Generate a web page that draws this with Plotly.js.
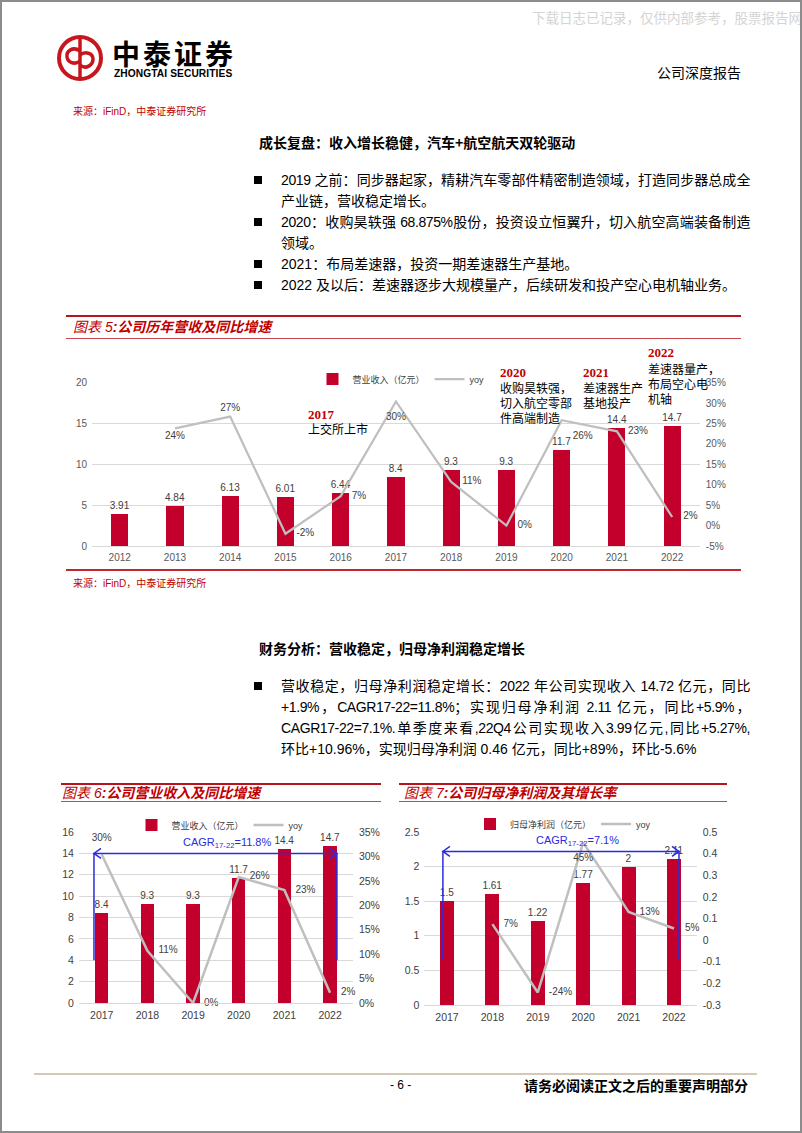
<!DOCTYPE html>
<html>
<head>
<meta charset="utf-8">
<script src="https://cdn.plot.ly/plotly-3.0.1.min.js"></script>
<style>
html,body{margin:0;padding:0;background:#fff;}
#page{position:relative;width:802px;height:1133px;overflow:hidden;background:#fff;box-sizing:border-box;border:2px solid #8c8c8c;
  font-family:"Liberation Sans","Noto Sans CJK SC",sans-serif;color:#000;}
#plot{position:absolute;left:-2px;top:-2px;width:802px;height:1133px;}
.t{position:absolute;white-space:nowrap;}
.ln{position:absolute;left:279px;width:469px;font-size:14px;line-height:20px;height:20px;overflow:visible;}
.j{text-align:justify;text-align-last:justify;letter-spacing:-0.4px;}
.sq{position:absolute;left:252px;width:8px;height:8px;background:#000;}
.hr{position:absolute;}
.ttl{font-size:14px;line-height:18px;color:#C00000;font-style:italic;font-family:"Liberation Sans","Noto Sans CJK SC",sans-serif;}
.src{font-size:10px;line-height:14px;color:#C00000;font-family:"Liberation Sans Narrow","Liberation Sans","Noto Sans CJK SC",sans-serif;}
.ann{font-size:12px;line-height:15px;color:#000;font-family:"Noto Sans CJK SC",sans-serif;}
.yr{font-size:13px;line-height:15px;color:#C00000;font-weight:bold;font-family:"Liberation Serif",serif;}
</style>
</head>
<body>
<div id="page">
<div id="plot"></div>

<!-- header -->
<div class="t" style="left:530px;top:6px;font-size:13.5px;line-height:18px;color:#d4d4d4;font-family:'Noto Sans CJK SC',sans-serif;">下载日志已记录，仅供内部参考，股票报告网</div>
<svg class="t" style="left:54px;top:32px" width="48" height="48" viewBox="0 0 48 48">
  <circle cx="24" cy="24" r="21" fill="none" stroke="#C8161D" stroke-width="4"/>
  <line x1="24" y1="4" x2="24" y2="44" stroke="#C8161D" stroke-width="3.5"/>
  <path d="M24 17 C17 12,10 17,11 23 C12 29,19 31,24 27" fill="none" stroke="#C8161D" stroke-width="3.5"/>
  <path d="M24 21 C29 17,37 19,37 25 C37 31,30 36,24 31" fill="none" stroke="#C8161D" stroke-width="3.5"/>
</svg>
<div class="t" style="left:110px;top:38px;font-size:28px;line-height:26px;font-weight:bold;letter-spacing:3px;font-family:'Noto Sans CJK SC',sans-serif;">中泰证券</div>
<div class="t" style="left:112px;top:66px;font-size:10.2px;line-height:11px;font-weight:bold;letter-spacing:0.1px;font-family:'Liberation Sans Narrow','Liberation Sans',sans-serif;">ZHONGTAI SECURITIES</div>
<div class="t" style="left:655px;top:60px;font-size:14px;line-height:20px;font-family:'Noto Sans CJK SC',sans-serif;">公司深度报告</div>
<div class="t src" style="left:71px;top:103px;">来源：iFinD，中泰证券研究所</div>

<!-- section 1 -->
<div class="t" style="left:257px;top:130px;font-size:14px;line-height:20px;font-weight:bold;font-family:'Noto Sans CJK SC',sans-serif;">成长复盘：收入增长稳健，汽车+航空航天双轮驱动</div>
<div class="sq" style="top:173.5px"></div>
<div class="ln j" style="top:167.5px">2019 之前：同步器起家，精耕汽车零部件精密制造领域，打造同步器总成全</div>
<div class="ln" style="top:188.5px">产业链，营收稳定增长。</div>
<div class="sq" style="top:215.5px"></div>
<div class="ln j" style="top:209.5px">2020：收购昊轶强 68.875%股份，投资设立恒翼升，切入航空高端装备制造</div>
<div class="ln" style="top:230.5px">领域。</div>
<div class="sq" style="top:257.5px"></div>
<div class="ln" style="top:251.5px">2021：布局差速器，投资一期差速器生产基地。</div>
<div class="sq" style="top:278.5px"></div>
<div class="ln" style="top:272.5px">2022 及以后：差速器逐步大规模量产，后续研发和投产空心电机轴业务。</div>

<!-- chart 5 frame -->
<div class="hr" style="left:64px;top:313px;width:675px;height:2px;background:#B8141C"></div>
<div class="t ttl" style="left:71px;top:316px;">图表 5<b>:公司历年营收及同比增速</b></div>
<div class="hr" style="left:64px;top:335.5px;width:675px;height:1.5px;background:#C9484D"></div>
<div class="hr" style="left:64px;top:567px;width:675px;height:2px;background:#C0282D"></div>
<div class="t src" style="left:71px;top:575px;">来源：iFinD，中泰证券研究所</div>

<!-- chart 5 annotations -->
<div class="t yr" style="left:306px;top:404.5px;">2017</div>
<div class="t ann" style="left:306px;top:418.5px;">上交所上市</div>
<div class="t yr" style="left:498px;top:362.5px;">2020</div>
<div class="t ann" style="left:498px;top:378px;">收购昊轶强，<br>切入航空零部<br>件高端制造</div>
<div class="t yr" style="left:581px;top:362.5px;">2021</div>
<div class="t ann" style="left:581px;top:377.5px;">差速器生产<br>基地投产</div>
<div class="t yr" style="left:646px;top:342.5px;">2022</div>
<div class="t ann" style="left:646px;top:358.5px;">差速器量产，<br>布局空心电<br>机轴</div>

<!-- section 2 -->
<div class="t" style="left:257px;top:636px;font-size:14px;line-height:20px;font-weight:bold;font-family:'Noto Sans CJK SC',sans-serif;">财务分析：营收稳定，归母净利润稳定增长</div>
<div class="sq" style="top:680px"></div>
<div class="ln j" style="top:674px">营收稳定，归母净利润稳定增长：2022 年公司实现收入 14.72 亿元，同比</div>
<div class="ln j" style="top:695px">+1.9%，CAGR17-22=11.8%；实现归母净利润 2.11 亿元，同比+5.9%，</div>
<div class="ln j" style="top:716px">CAGR17-22=7.1%.单季度来看,22Q4公司实现收入3.99亿元,同比+5.27%,</div>
<div class="ln" style="top:737px">环比+10.96%，实现归母净利润 0.46 亿元，同比+89%，环比-5.6%</div>

<!-- chart 6 / 7 frames -->
<div class="hr" style="left:59px;top:781px;width:320px;height:2px;background:#B8141C"></div>
<div class="t ttl" style="left:60px;top:782px;">图表 6<b>:公司营业收入及同比增速</b></div>
<div class="hr" style="left:59px;top:798.5px;width:320px;height:1.5px;background:#C9484D"></div>
<div class="hr" style="left:397px;top:781px;width:328px;height:2px;background:#B8141C"></div>
<div class="t ttl" style="left:402px;top:782px;">图表 7<b>:公司归母净利润及其增长率</b></div>
<div class="hr" style="left:397px;top:798.5px;width:328px;height:1.5px;background:#C9484D"></div>

<!-- footer -->
<div class="hr" style="left:32px;top:1071px;width:723px;height:1.5px;background:#D5C8B5"></div>
<div class="t" style="left:388px;top:1075px;font-size:12px;line-height:16px;">- 6 -</div>
<div class="t" style="left:522px;top:1074px;font-size:14px;line-height:18px;font-weight:bold;font-family:'Noto Sans CJK SC',sans-serif;">请务必阅读正文之后的重要声明部分</div>
</div>

<script>
// ---------------- data ----------------
const years5 = [2012, 2013, 2014, 2015, 2016, 2017, 2018, 2019, 2020, 2021, 2022];
const revenue5 = [3.91, 4.84, 6.13, 6.01, 6.44, 8.4, 9.3, 9.3, 11.7, 14.4, 14.7];
const yoyYears5 = [2013, 2014, 2015, 2016, 2017, 2018, 2019, 2020, 2021, 2022];
const revenueYoy5 = [0.238, 0.267, -0.020, 0.072, 0.304, 0.107, 0.000, 0.258, 0.231, 0.021];

const years6 = [2017, 2018, 2019, 2020, 2021, 2022];
const revenue6 = [8.4, 9.3, 9.3, 11.7, 14.4, 14.7];
const revenueYoy6 = [0.304, 0.107, 0.000, 0.258, 0.231, 0.021];

const years7 = [2017, 2018, 2019, 2020, 2021, 2022];
const profit7 = [1.5, 1.61, 1.22, 1.77, 2, 2.11];
const yoyYears7 = [2018, 2019, 2020, 2021, 2022];
const profitYoy7 = [0.074, -0.242, 0.451, 0.130, 0.054];

const barName6 = '营业收入（亿元）';
const barName7 = '归母净利润（亿元）';
const lineName = 'yoy';

const tick5L = [0, 5, 10, 15, 20];
const tick5R = [-0.05, 0, 0.05, 0.10, 0.15, 0.20, 0.25, 0.30, 0.35];
const tick5RText = ['-5%', '0%', '5%', '10%', '15%', '20%', '25%', '30%', '35%'];
const tick6L = [0, 2, 4, 6, 8, 10, 12, 14, 16];
const tick6R = [0, 0.05, 0.10, 0.15, 0.20, 0.25, 0.30, 0.35];
const tick6RText = ['0%', '5%', '10%', '15%', '20%', '25%', '30%', '35%'];
const tick7L = [0, 0.5, 1, 1.5, 2, 2.5];
const tick7LText = ['0', '0.5', '1', '1.5', '2', '2.5'];
const tick7R = [-0.3, -0.2, -0.1, 0, 0.1, 0.2, 0.3, 0.4, 0.5];
const tick7RText = ['-0.3', '-0.2', '-0.1', '0', '0.1', '0.2', '0.3', '0.4', '0.5'];

const cagr6Text = 'CAGR<sub>17-22</sub>=11.8%';
const cagr7Text = 'CAGR<sub>17-22</sub>=7.1%';

// ---------------- styles ----------------
const RED = '#C3002B', GRAY = '#BFBFBF', BLUE = '#2B2BE0';
const FONT = 'Liberation Sans, Noto Sans CJK SC, sans-serif';
const W = 802, H = 1133;
const fx = p => p / W, fy = p => 1 - p / H;
const pct = v => Math.round(v * 100) + '%';
const lbl = {family: FONT, size: 10, color: '#404040'};
const tickF = {family: FONT, size: 10, color: '#595959'};
const tickF2 = {family: FONT, size: 10.5, color: '#404040'};
const CLEAR = 'rgba(0,0,0,0)';

// label placement (style, not data)
const pos5 = ['bottom center', 'top center', 'middle right', 'middle right', 'bottom center',
              'middle right', 'middle right', 'bottom right', 'middle right', 'middle right'];
const gap5 = [3, 3, 16, 16, 16, 16, 16, 16, 16, 16];
const pos6 = ['top center', 'middle right', 'middle right', 'middle right', 'middle right', 'middle right'];
const pos7 = ['middle right', 'middle right', 'bottom center', 'middle right', 'middle right'];
const hiddenMarker = s => ({size: s, color: CLEAR, opacity: 0, line: {width: 0, color: CLEAR}});

const traces = [
  {type: 'bar', x: years5, y: revenue5, name: barName6, xaxis: 'x', yaxis: 'y', width: 0.31,
   marker: {color: RED}, text: revenue5.map(String), textposition: 'outside', constraintext: 'none',
   textfont: lbl, cliponaxis: false, legend: 'legend'},
  {type: 'scatter', mode: 'lines+markers+text', x: yoyYears5, y: revenueYoy5, name: lineName, xaxis: 'x', yaxis: 'y2',
   line: {color: GRAY, width: 2.25}, marker: hiddenMarker(gap5), text: revenueYoy5.map(pct),
   textposition: pos5, textfont: lbl, cliponaxis: false, legend: 'legend'},

  {type: 'bar', x: years6, y: revenue6, name: barName6, xaxis: 'x2', yaxis: 'y3', width: 0.29,
   marker: {color: RED}, text: revenue6.map(String), textposition: 'outside', constraintext: 'none',
   textfont: lbl, cliponaxis: false, legend: 'legend2'},
  {type: 'scatter', mode: 'lines+markers+text', x: years6, y: revenueYoy6, name: lineName, xaxis: 'x2', yaxis: 'y4',
   line: {color: GRAY, width: 2.5}, marker: hiddenMarker(16), text: revenueYoy6.map(pct),
   textposition: pos6, textfont: lbl, cliponaxis: false, legend: 'legend2'},

  {type: 'bar', x: years7, y: profit7, name: barName7, xaxis: 'x3', yaxis: 'y5', width: 0.31,
   marker: {color: RED}, text: profit7.map(String), textposition: 'outside', constraintext: 'none',
   textfont: lbl, cliponaxis: false, legend: 'legend3'},
  {type: 'scatter', mode: 'lines+markers+text', x: yoyYears7, y: profitYoy7, name: lineName, xaxis: 'x3', yaxis: 'y6',
   line: {color: GRAY, width: 2.5}, marker: hiddenMarker(16), text: profitYoy7.map(pct),
   textposition: pos7, textfont: lbl, cliponaxis: false, legend: 'legend3'}
];

const xBase = {showgrid: false, zeroline: false, ticks: '', showline: true, linecolor: '#D9D9D9', linewidth: 1,
               tickfont: tickF, tickmode: 'array', fixedrange: true, ticklabelstandoff: 2};
const yBase = {showgrid: true, gridcolor: '#D9D9D9', gridwidth: 1, zeroline: false, ticks: '', showline: false,
               tickfont: tickF, tickmode: 'array', fixedrange: true, ticklabelstandoff: 4};
const yRight = {showgrid: false, zeroline: false, ticks: '', showline: false, side: 'right',
                tickfont: tickF, tickmode: 'array', fixedrange: true, ticklabelstandoff: 5};

function legendAt(cx, cy) {
  return {orientation: 'h', x: fx(cx), xanchor: 'center', y: fy(cy), yanchor: 'middle',
          bgcolor: CLEAR, borderwidth: 0, font: {family: FONT, size: 9, color: '#404040'},
          itemwidth: 30, traceorder: 'normal'};
}

function cagrShapes(xr, yr, xl, xrr, yTop, yBot) {
  const st = {color: BLUE, width: 1.5};
  return [
    {type: 'path', xref: xr, yref: yr, line: st,
     path: `M ${xl},${yBot} L ${xl},${yTop} L ${xrr},${yTop} L ${xrr},${yBot}`},
    {type: 'path', xref: xr, yref: yr, xsizemode: 'pixel', ysizemode: 'pixel', xanchor: xl, yanchor: yTop,
     line: st, path: 'M 7,5 L 0,0 L 7,-5'},
    {type: 'path', xref: xr, yref: yr, xsizemode: 'pixel', ysizemode: 'pixel', xanchor: xrr, yanchor: yTop,
     line: st, path: 'M -7,5 L 0,0 L -7,-5'}
  ];
}

const layout = {
  width: W, height: H, margin: {l: 0, r: 0, t: 0, b: 0, pad: 0},
  paper_bgcolor: CLEAR, plot_bgcolor: CLEAR,
  font: {family: FONT}, showlegend: true, bargap: 0,
  // chart 5
  xaxis: Object.assign({}, xBase, {domain: [fx(92.1), fx(699.8)], range: [2011.5, 2022.5], tickvals: years5, anchor: 'y'}),
  yaxis: Object.assign({}, yBase, {domain: [fy(546), fy(382.7)], range: [0, 20], tickvals: tick5L, anchor: 'x'}),
  yaxis2: Object.assign({}, yRight, {overlaying: 'y', anchor: 'x', range: [-0.05, 0.35], tickvals: tick5R, ticktext: tick5RText}),
  // chart 6
  xaxis2: Object.assign({}, xBase, {domain: [fx(78.9), fx(352.9)], range: [2016.5, 2022.5], tickvals: years6, anchor: 'y3', tickfont: tickF2}),
  yaxis3: Object.assign({}, yBase, {domain: [fy(1003), fy(832)], range: [0, 16], tickvals: tick6L, anchor: 'x2', tickfont: tickF2}),
  yaxis4: Object.assign({}, yRight, {overlaying: 'y3', anchor: 'x2', range: [0, 0.35], tickvals: tick6R, ticktext: tick6RText, tickfont: tickF2}),
  // chart 7
  xaxis3: Object.assign({}, xBase, {domain: [fx(424.3), fx(696.7)], range: [2016.5, 2022.5], tickvals: years7, anchor: 'y5', tickfont: tickF2}),
  yaxis5: Object.assign({}, yBase, {domain: [fy(1005), fy(832)], range: [0, 2.5], tickvals: tick7L, ticktext: tick7LText, anchor: 'x3', tickfont: tickF2}),
  yaxis6: Object.assign({}, yRight, {overlaying: 'y5', anchor: 'x3', range: [-0.3, 0.5], tickvals: tick7R, ticktext: tick7RText, tickfont: tickF2}),
  legend: legendAt(401, 379),
  legend2: legendAt(220, 825),
  legend3: legendAt(563, 824),
  shapes: [].concat(
    cagrShapes('x2', 'y3', 2016.83, 2022.15, 14, 4),
    cagrShapes('x3', 'y5', 2016.91, 2022.11, 2.22, 0.65)
  ),
  annotations: [
    {xref: 'paper', yref: 'paper', x: fx(227), y: fy(843), text: cagr6Text, showarrow: false,
     xanchor: 'center', yanchor: 'middle', font: {family: FONT, size: 11, color: BLUE}},
    {xref: 'paper', yref: 'paper', x: fx(577), y: fy(841), text: cagr7Text, showarrow: false,
     xanchor: 'center', yanchor: 'middle', font: {family: FONT, size: 11, color: BLUE}}
  ]
};

Plotly.newPlot('plot', traces, layout, {staticPlot: true, displayModeBar: false});
</script>
</body>
</html>
